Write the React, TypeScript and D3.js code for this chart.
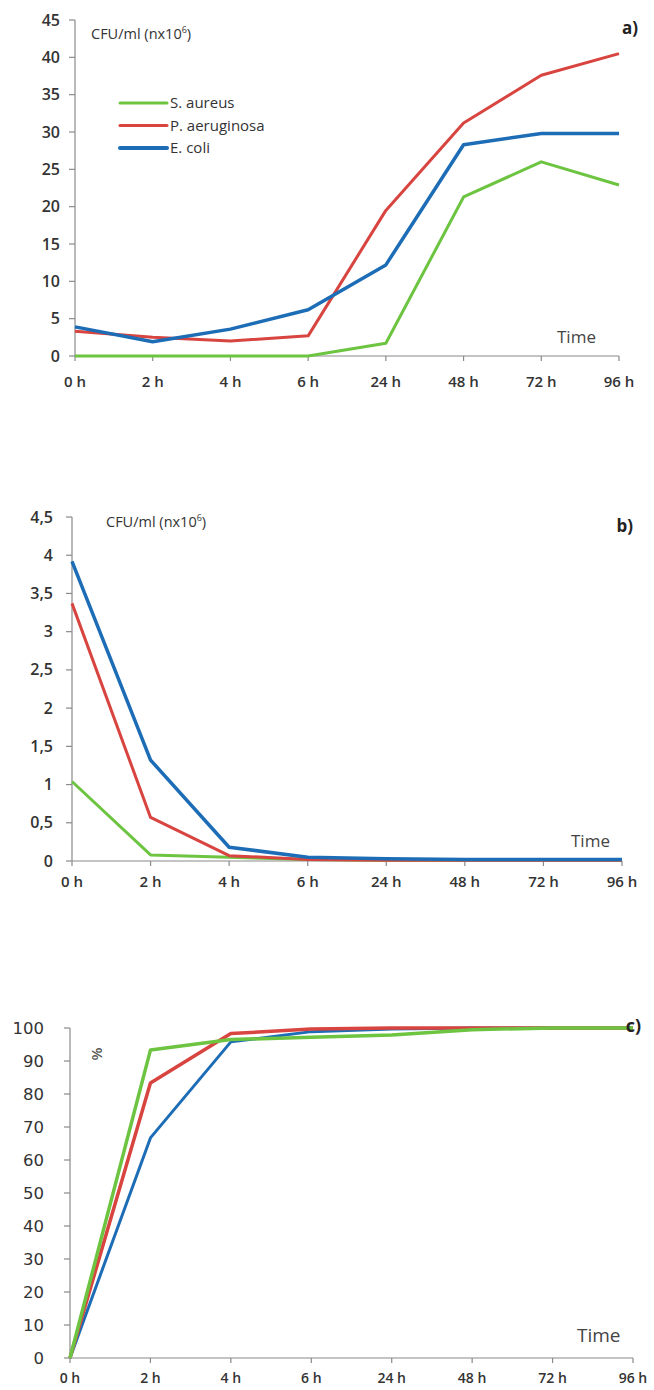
import React from "react";
import * as d3 from "d3";

const TIMES = ["0 h", "2 h", "4 h", "6 h", "24 h", "48 h", "72 h", "96 h"];
const SERIES_NAMES = ["S. aureus", "P. aeruginosa", "E. coli"];
const SERIES_COLORS = ["#6cc440", "#d8443f", "#1d6db6"];

// Panel a: CFU/ml (n x 10^6)
const A_SAUREUS = [0, 0, 0, 0, 1.7, 21.3, 26, 22.9];
const A_PAERU = [3.3, 2.5, 2.0, 2.7, 19.5, 31.2, 37.6, 40.5];
const A_ECOLI = [3.9, 1.9, 3.6, 6.2, 12.2, 28.3, 29.8, 29.8];
const A_TICKS = [0, 5, 10, 15, 20, 25, 30, 35, 40, 45];

// Panel b: CFU/ml (n x 10^6)
const B_SAUREUS = [1.04, 0.08, 0.05, 0.02, 0.01, 0.01, 0.01, 0.01];
const B_PAERU = [3.37, 0.57, 0.07, 0.02, 0.01, 0.01, 0.01, 0.01];
const B_ECOLI = [3.92, 1.32, 0.18, 0.05, 0.03, 0.02, 0.02, 0.02];
const B_TICKS = [0, 0.5, 1, 1.5, 2, 2.5, 3, 3.5, 4, 4.5];

// Panel c: %
const C_SAUREUS = [0, 93.3, 96.5, 97.2, 97.9, 99.5, 100, 100];
const C_PAERU = [0, 83.3, 98.3, 99.7, 100, 100, 100, 100];
const C_ECOLI = [0, 66.7, 95.8, 98.9, 99.7, 100, 100, 100];
const C_TICKS = [0, 10, 20, 30, 40, 50, 60, 70, 80, 90, 100];

const AXIS = "#8a8a8a";
const TXT = "#333";
const CAL = "'Open Sans', 'Noto Sans', sans-serif";

type PanelProps = {
  series: number[][];
  order: number[];
  ticks: number[];
  yMax: number;
  x0: number;
  x1: number;
  yTop: number;
  yBot: number;
  tickFmt: (v: number) => string;
  tickFont: string;
  tickSize: number;
  tickWeight: number;
  tickGap: number;
  xLabelY: number;
  xLabelSize: number;
  strokeW: number[];
};

function Panel(p: PanelProps) {
  const x = d3.scalePoint<string>().domain(TIMES).range([p.x0, p.x1]);
  const y = d3.scaleLinear().domain([0, p.yMax]).range([p.yBot, p.yTop]);
  const line = d3
    .line<number>()
    .x((_, i) => x(TIMES[i]) as number)
    .y((d) => y(d));
  return (
    <g>
      <line x1={p.x0} x2={p.x0} y1={y(p.yMax)} y2={p.yBot} stroke={AXIS} strokeWidth={1.2} />
      {p.ticks.map((t) => (
        <g key={"y" + t}>
          <line x1={p.x0 - 6} x2={p.x0} y1={y(t)} y2={y(t)} stroke={AXIS} strokeWidth={1.2} />
          <text
            x={p.x0 - p.tickGap}
            y={y(t)}
            dy="0.35em"
            textAnchor="end"
            fontFamily={p.tickFont}
            fontSize={p.tickSize}
            fontWeight={p.tickWeight}
            fill={TXT}
          >
            {p.tickFmt(t)}
          </text>
        </g>
      ))}
      <line x1={p.x0} x2={p.x1} y1={p.yBot} y2={p.yBot} stroke={AXIS} strokeWidth={1.2} />
      {TIMES.map((t) => (
        <g key={"x" + t}>
          <line x1={x(t)} x2={x(t)} y1={p.yBot} y2={p.yBot + 5} stroke={AXIS} strokeWidth={1.2} />
          <text
            x={x(t)}
            y={p.xLabelY}
            textAnchor="middle"
            fontFamily={CAL}
            fontSize={p.xLabelSize}
            fontWeight={600}
            fill={TXT}
          >
            {t}
          </text>
        </g>
      ))}
      {p.order.map((si) => (
        <path
          key={"s" + si}
          d={line(p.series[si]) || ""}
          fill="none"
          stroke={SERIES_COLORS[si]}
          strokeWidth={p.strokeW[si]}
          strokeLinejoin="round"
        />
      ))}
    </g>
  );
}

function CfuLabel({ x, y }: { x: number; y: number }) {
  return (
    <text x={x} y={y} fontFamily={CAL} fontSize={14.5} fill={TXT}>
      CFU/ml (nx10
      <tspan fontSize={9} dy={-6}>6</tspan>
      <tspan dy={6}>)</tspan>
    </text>
  );
}

export default function App() {
  return (
    <svg
      width={654}
      height={1390}
      style={{ position: "absolute", left: 0, top: 0, background: "#fff" }}
    >
      {/* Panel a */}
      <Panel
        series={[A_SAUREUS, A_PAERU, A_ECOLI]}
        order={[0, 1, 2]}
        ticks={A_TICKS}
        yMax={45}
        x0={75}
        x1={619}
        yTop={20}
        yBot={356}
        tickFmt={(v) => String(v)}
        tickFont={CAL}
        tickSize={16}
        tickWeight={600}
        tickGap={15}
        xLabelY={387}
        xLabelSize={15}
        strokeW={[3, 3, 3.5]}
      />
      <CfuLabel x={91} y={39} />
      <text x={638} y={34} textAnchor="end" fontFamily={CAL} fontSize={17} fontWeight={700} fill="#222">
        a)
      </text>
      <text x={557} y={343} fontFamily={CAL} fontSize={17} fill="#444">
        Time
      </text>
      {SERIES_NAMES.map((n, i) => (
        <g key={n}>
          <line
            x1={120}
            x2={167}
            y1={103 + i * 22.5}
            y2={103 + i * 22.5}
            stroke={SERIES_COLORS[i]}
            strokeWidth={i === 2 ? 4 : 3}
            strokeLinecap="round"
          />
          <text x={170} y={103 + i * 22.5} dy="0.35em" fontFamily={CAL} fontSize={15} fill={TXT}>
            {n}
          </text>
        </g>
      ))}

      {/* Panel b */}
      <Panel
        series={[B_SAUREUS, B_PAERU, B_ECOLI]}
        order={[0, 1, 2]}
        ticks={B_TICKS}
        yMax={4.5}
        x0={72}
        x1={622}
        yTop={517}
        yBot={861}
        tickFmt={(v) => String(v).replace(".", ",")}
        tickFont={CAL}
        tickSize={16}
        tickWeight={600}
        tickGap={19}
        xLabelY={887}
        xLabelSize={15}
        strokeW={[3, 3, 3.5]}
      />
      <CfuLabel x={106} y={527} />
      <text x={633} y={532} textAnchor="end" fontFamily={CAL} fontSize={17} fontWeight={700} fill="#222">
        b)
      </text>
      <text x={571} y={847} fontFamily={CAL} fontSize={17} fill="#444">
        Time
      </text>

      {/* Panel c */}
      <Panel
        series={[C_SAUREUS, C_PAERU, C_ECOLI]}
        order={[2, 1, 0]}
        ticks={C_TICKS}
        yMax={100}
        x0={70}
        x1={633}
        yTop={1028}
        yBot={1358}
        tickFmt={(v) => String(v)}
        tickFont="'DejaVu Sans', Verdana, sans-serif"
        tickSize={16.5}
        tickWeight={400}
        tickGap={26}
        xLabelY={1383}
        xLabelSize={14}
        strokeW={[3.5, 3.5, 3]}
      />
      <text
        transform="translate(97,1054) rotate(90)"
        textAnchor="middle"
        dy="0.35em"
        fontFamily={CAL}
        fontSize={15}
        fontWeight={600}
        fill="#555"
      >
        %
      </text>
      <text x={641} y={1032} textAnchor="end" fontFamily={CAL} fontSize={18} fontWeight={700} fill="#222">
        c)
      </text>
      <text x={577} y={1342} fontFamily={CAL} fontSize={19} fill="#444">
        Time
      </text>
    </svg>
  );
}
